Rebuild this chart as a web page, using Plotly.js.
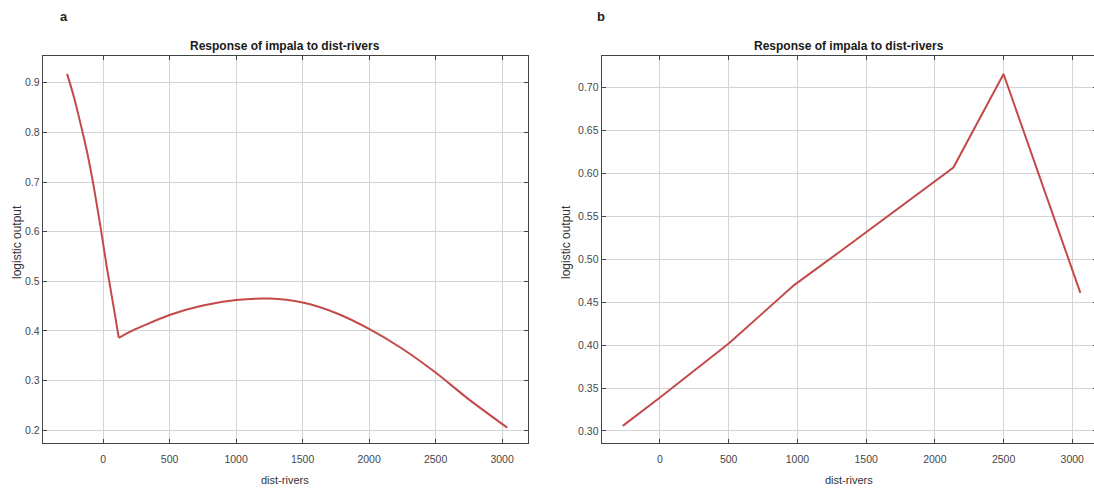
<!DOCTYPE html>
<html>
<head>
<meta charset="utf-8">
<script src="https://cdn.plot.ly/plotly-3.0.1.min.js"></script>
<style>
html,body{margin:0;padding:0;background:#fff;overflow:hidden;width:1094px;height:491px;}
#chart{width:1100px;height:491px;}
</style>
</head>
<body>
<div id="chart"></div>
<script>
// Panel a: response of impala to dist-rivers
const distA = [-271, -220, -170, -120, -70, -20, 30, 80, 118, 200, 300, 500, 750, 1000, 1250, 1500, 1750, 2000, 2250, 2500, 2750, 3039];
const respA = [0.918, 0.872, 0.818, 0.760, 0.690, 0.610, 0.525, 0.447, 0.386, 0.398, 0.410, 0.432, 0.451, 0.462, 0.465, 0.457, 0.436, 0.404, 0.364, 0.316, 0.262, 0.205];
const kinkIndexA = 8; // minimum of the curve (sharp corner)

// Panel b: response of impala to dist-rivers
const distB = [-271, 0, 500, 976, 1360, 2135, 2500, 3059];
const respB = [0.306, 0.339, 0.402, 0.470, 0.515, 0.607, 0.716, 0.461];

const xTicks = [0, 500, 1000, 1500, 2000, 2500, 3000];
const xTickText = ['0', '500', '1000', '1500', '2000', '2500', '3000'];
const yTicksA = [0.2, 0.3, 0.4, 0.5, 0.6, 0.7, 0.8, 0.9];
const yTicksB = [0.30, 0.35, 0.40, 0.45, 0.50, 0.55, 0.60, 0.65, 0.70];

const panelLabels = ['a', 'b'];
const titleText = 'Response of impala to dist-rivers';
const xTitle = 'dist-rivers';
const yTitle = 'logistic output';

const W = 1100, H = 491;
const px = v => v / W;
const py = v => 1 - v / H;

const lineColor = '#c44a4a';
const tickFont = {family: 'Liberation Sans, Arial, sans-serif', size: 10.5, color: '#474747'};

const traces = [
  {x: distA.slice(0, kinkIndexA + 1), y: respA.slice(0, kinkIndexA + 1), type: 'scatter', mode: 'lines',
   line: {color: lineColor, width: 2, shape: 'spline', smoothing: 0.8}, xaxis: 'x', yaxis: 'y', hoverinfo: 'skip'},
  {x: distA.slice(kinkIndexA), y: respA.slice(kinkIndexA), type: 'scatter', mode: 'lines',
   line: {color: lineColor, width: 2, shape: 'spline', smoothing: 0.8}, xaxis: 'x', yaxis: 'y', hoverinfo: 'skip'},
  {x: distB, y: respB, type: 'scatter', mode: 'lines', line: {color: lineColor, width: 2}, xaxis: 'x2', yaxis: 'y2', hoverinfo: 'skip'}
];

function xAxis(domain, range, anchor) {
  return {
    domain: domain, range: range, anchor: anchor,
    tickvals: xTicks, ticktext: xTickText,
    showgrid: true, gridcolor: '#d4d4d4', gridwidth: 1,
    zeroline: false, showline: true, linecolor: '#444', linewidth: 1.4,
    mirror: 'ticks', ticks: 'inside', ticklen: 4, tickcolor: '#444',
    tickfont: tickFont, ticklabelstandoff: 6
  };
}
function yAxis(domain, range, anchor, vals, fmt) {
  return {
    domain: domain, range: range, anchor: anchor,
    tickvals: vals, tickformat: fmt,
    showgrid: true, gridcolor: '#d4d4d4', gridwidth: 1,
    zeroline: false, showline: true, linecolor: '#444', linewidth: 1.4,
    mirror: 'ticks', ticks: 'inside', ticklen: 4, tickcolor: '#444',
    tickfont: tickFont
  };
}

const yDom = [1 - 443 / H, 1 - 56 / H];

const annFont = {family: 'Liberation Sans, Arial, sans-serif', size: 11, color: '#333'};
const yTitleFont = {family: 'Liberation Sans, Arial, sans-serif', size: 12, color: '#333'};
const titleFont = {family: 'Liberation Sans, Arial, sans-serif', size: 12, color: '#1a1a1a'};
const labelFont = {family: 'Liberation Sans, Arial, sans-serif', size: 13, color: '#222'};

const annotations = [
  {text: '<b>' + panelLabels[0] + '</b>', x: px(64), y: py(17), xref: 'paper', yref: 'paper', showarrow: false, font: labelFont, xanchor: 'center', yanchor: 'middle'},
  {text: '<b>' + panelLabels[1] + '</b>', x: px(601), y: py(17), xref: 'paper', yref: 'paper', showarrow: false, font: labelFont, xanchor: 'center', yanchor: 'middle'},
  {text: '<b>' + titleText + '</b>', x: px(285), y: py(46), xref: 'paper', yref: 'paper', showarrow: false, font: titleFont, xanchor: 'center', yanchor: 'middle'},
  {text: '<b>' + titleText + '</b>', x: px(849), y: py(46), xref: 'paper', yref: 'paper', showarrow: false, font: titleFont, xanchor: 'center', yanchor: 'middle'},
  {text: xTitle, x: px(285), y: py(480), xref: 'paper', yref: 'paper', showarrow: false, font: annFont, xanchor: 'center', yanchor: 'middle'},
  {text: xTitle, x: px(849), y: py(480), xref: 'paper', yref: 'paper', showarrow: false, font: annFont, xanchor: 'center', yanchor: 'middle'},
  {text: yTitle, x: px(17), y: py(242), xref: 'paper', yref: 'paper', showarrow: false, font: yTitleFont, textangle: -90, xanchor: 'center', yanchor: 'middle'},
  {text: yTitle, x: px(566), y: py(242), xref: 'paper', yref: 'paper', showarrow: false, font: yTitleFont, textangle: -90, xanchor: 'center', yanchor: 'middle'}
];

const layout = {
  width: W, height: H,
  margin: {l: 0, r: 0, t: 0, b: 0},
  paper_bgcolor: '#ffffff', plot_bgcolor: '#ffffff',
  showlegend: false,
  xaxis: xAxis([px(43), px(528)], [-452, 3195], 'y'),
  yaxis: yAxis(yDom, [0.174, 0.954], 'x', yTicksA, '.1f'),
  xaxis2: xAxis([px(602), px(1097)], [-422, 3180], 'y2'),
  yaxis2: yAxis(yDom, [0.286, 0.737], 'x2', yTicksB, '.2f'),
  annotations: annotations
};

Plotly.newPlot('chart', traces, layout, {staticPlot: true, displayModeBar: false});
</script>
</body>
</html>
